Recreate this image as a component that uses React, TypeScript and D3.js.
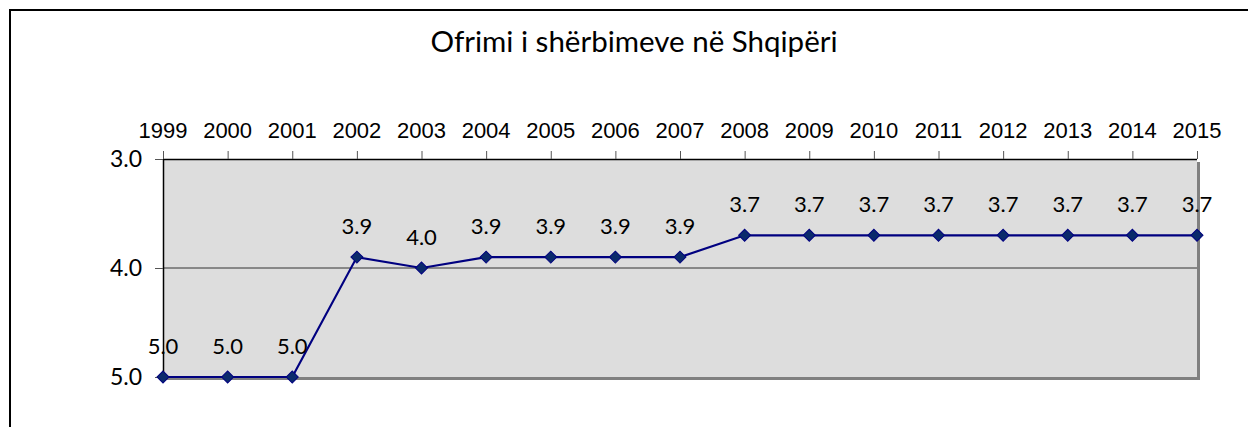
import React from "react";
import * as d3 from "d3";

const years = ["1999","2000","2001","2002","2003","2004","2005","2006","2007","2008","2009","2010","2011","2012","2013","2014","2015"];
const values = [5.0,5.0,5.0,3.9,4.0,3.9,3.9,3.9,3.9,3.7,3.7,3.7,3.7,3.7,3.7,3.7,3.7];
const yTicks = [3.0, 4.0, 5.0];
const title = "Ofrimi i shërbimeve në Shqipëri";

const W = 1248, H = 427;
const left = 163, right = 1197, top = 159, bottom = 377;

export default function App() {
  const x = d3.scalePoint<string>().domain(years).range([left, right]);
  const y = d3.scaleLinear().domain([3, 5]).range([top, bottom]);
  const line = d3.line<number>().x((_, i) => x(years[i])!).y(d => y(d));
  const diamond = d3.symbol().type(d3.symbolSquare).size(72)();
  const gill = "'Gill Sans', 'Gill Sans MT', Lato, 'Open Sans', sans-serif";
  return (
    <svg width={W} height={H} style={{ position: "absolute", left: 0, top: 0, background: "#fff" }}>
      <rect x={10} y={10} width={1260} height={500} fill="none" stroke="#000" strokeWidth={2} />
      <text x={634} y={52} textAnchor="middle" fontFamily={gill} fontSize={29.5} fill="#000">{title}</text>
      <rect x={left + 3} y={top + 3} width={right - left} height={bottom - top} fill="#808080" />
      <rect x={left} y={top} width={right - left} height={bottom - top} fill="#dddddd" />
      {yTicks.slice(1, -1).map(t => (
        <line key={t} x1={left} x2={right} y1={y(t)} y2={y(t)} stroke="#333" strokeWidth={1} />
      ))}
      <line x1={left} x2={right} y1={top + 0.5} y2={top + 0.5} stroke="#000" strokeWidth={1.5} />
      <line x1={left + 0.5} x2={left + 0.5} y1={top} y2={bottom} stroke="#000" strokeWidth={1.5} />
      {years.map(yr => (
        <g key={yr}>
          <line x1={x(yr)! + 0.5} x2={x(yr)! + 0.5} y1={top - 8} y2={top} stroke="#555" strokeWidth={1} />
          <text x={x(yr)} y={138} textAnchor="middle" fontFamily="'Liberation Sans', Arial, sans-serif" fontSize={22} fill="#000">{yr}</text>
        </g>
      ))}
      {yTicks.map(t => (
        <g key={t}>
          <line x1={left - 8} x2={left} y1={y(t) + 0.5} y2={y(t) + 0.5} stroke="#555" strokeWidth={1} />
          <text x={142} y={y(t) + 8} textAnchor="end" fontFamily={gill} fontSize={23} fill="#000">{t.toFixed(1)}</text>
        </g>
      ))}
      <path d={line(values) ?? ""} fill="none" stroke="#000080" strokeWidth={2.2} />
      {values.map((v, i) => (
        <g key={i}>
          <path d={diamond} transform={`translate(${x(years[i])},${y(v)}) rotate(45)`} fill="#0a2a6b" stroke="#000080" strokeWidth={1} />
          <text x={x(years[i])} y={y(v) - 23} textAnchor="middle" fontFamily={gill} fontSize={22} fill="#000">{v.toFixed(1)}</text>
        </g>
      ))}
    </svg>
  );
}
